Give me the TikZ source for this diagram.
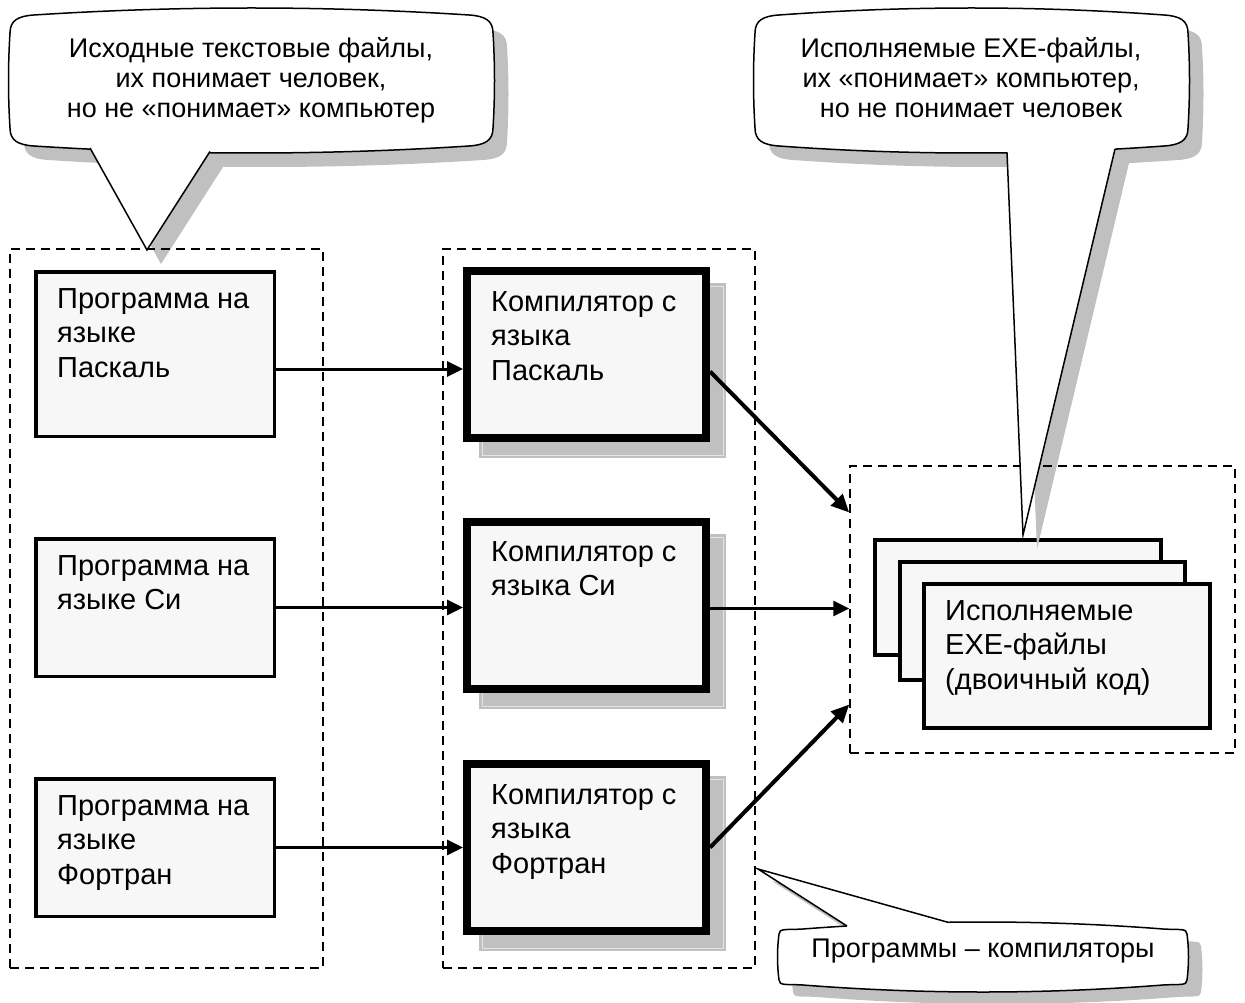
\documentclass[tikz,border=0pt]{standalone}
\usepackage{fontspec}
\setmainfont{Liberation Sans}
\usetikzlibrary{arrows.meta}
\definecolor{boxfill}{HTML}{F7F7F7}
\definecolor{shadowgray}{HTML}{C0C0C0}
\definecolor{shadowline}{HTML}{E4E4E4}

% callout body: x1 y1 x2 y2 vertical-corner
\newcommand\calloutbody[5]{%
 ({#1+24},{#2+7})
 .. controls ({#1+24+(#3-#1-48)/3},{#2-7/3}) and ({#3-24-(#3-#1-48)/3},{#2-7/3}) .. ({#3-24},{#2+7})
 .. controls ({#3-8},{#2+8}) and ({#3},{#2+#5/2}) .. ({#3},{#2+#5})
 .. controls ({#3+2},{#2+#5+(#4-#2-2*#5)/3}) and ({#3+2},{#4-#5-(#4-#2-2*#5)/3}) .. ({#3},{#4-#5})
 .. controls ({#3},{#4-#5/2}) and ({#3-8},{#4-8}) .. ({#3-24},{#4-7})
 .. controls ({#3-24-(#3-#1-48)/3},{#4+7/3}) and ({#1+24+(#3-#1-48)/3},{#4+7/3}) .. ({#1+24},{#4-7})
 .. controls ({#1+8},{#4-8}) and ({#1},{#4-#5/2}) .. ({#1},{#4-#5})
 .. controls ({#1-2},{#4-#5-(#4-#2-2*#5)/3}) and ({#1-2},{#2+#5+(#4-#2-2*#5)/3}) .. ({#1},{#2+#5})
 .. controls ({#1},{#2+#5/2}) and ({#1+8},{#2+8}) .. ({#1+24},{#2+7}) -- cycle}

\tikzset{
  srcbox/.style={draw, fill=boxfill, line width=3.5pt, inner sep=0pt, minimum width=238.5pt},
  compbox/.style={draw, fill=boxfill, line width=8pt, inner sep=0pt, minimum width=239pt, minimum height=167pt},
  exebox/.style={draw, fill=boxfill, line width=4pt, inner sep=0pt},
  group/.style={draw, dashed, dash pattern=on 9pt off 6pt, line width=1.5pt, inner sep=0pt},
  arr/.style={line width=3pt, -{Triangle[length=16pt,width=15pt]}},
  darr/.style={line width=4pt, -{Triangle[length=18pt,width=16pt]}},
  cline/.style={line width=1.5pt, line join=miter},
  txt/.style={anchor=north west, inner sep=0pt, align=left, font=\fontsize{29pt}{34.5pt}\selectfont},
  ctxt/.style={anchor=north, inner sep=0pt, align=center, font=\fontsize{27pt}{30pt}\selectfont}
}

\begin{document}
\begin{tikzpicture}[x=1pt,y=-1pt]
\useasboundingbox (0,0) rectangle (1245,1003);

% compiler shadows
\foreach \t/\b in {267/442, 518/693, 760/935}{
  \fill[shadowgray] (479,\t+16) rectangle (726,\b+16);
  \draw[shadowline, line width=0.8pt] (482,\t+19) rectangle (723,\b+13);
}

% source programs
\node[srcbox, minimum height=164.5pt] (p1) at (155,354) {};
\node[srcbox, minimum height=137.5pt] (p2) at (155,607.5) {};
\node[srcbox, minimum height=137.5pt] (p3) at (155,847.5) {};

% compilers
\node[compbox] (c1) at (586.5,354.5) {};
\node[compbox] (c2) at (586.5,605.5) {};
\node[compbox] (c3) at (586.5,847.5) {};

% exe files stack
\node[exebox, minimum width=286pt, minimum height=115pt] (e1) at (1018,597.5) {};
\node[exebox, minimum width=285pt, minimum height=118pt] (e2) at (1042.5,621) {};
\node[exebox, minimum width=286pt, minimum height=144pt] (e3) at (1067,656) {};

% callout shadows
\fill[shadowgray, shift={(14,14)}] \calloutbody{10}{8}{493}{153}{25};
\fill[shadowgray, shift={(14,14)}] (90,148) -- (147,250) -- (210,151.5) -- cycle;
\fill[shadowgray, shift={(14,14)}] \calloutbody{755}{8}{1188}{153}{25};
\fill[shadowgray, shift={(14,14)}] (1007,152.3) -- (1023,535) -- (1115,149) -- cycle;
\fill[shadowgray, shift={(14,12)}] \calloutbody{779}{922}{1187}{992}{12};
\fill[shadowgray, shift={(14,12)}] (847,926) -- (758,869) -- (948,922.3) -- cycle;

% groups
\node[group, minimum width=313pt, minimum height=719pt] (gL) at (166.5,608.5) {};
\node[group, minimum width=312pt, minimum height=719pt] (gM) at (599,608.5) {};
\node[group, minimum width=385pt, minimum height=287pt] (gR) at (1042.5,609.5) {};

% arrows
\draw[arr] ([yshift=-15pt]p1.east) coordinate (s1) -- (s1 -| c1.west);
\draw[arr] (p2.east) -- (p2.east -| c2.west);
\draw[arr] (p3.east) -- (p3.east -| c3.west);
\draw[darr] ([yshift=-17pt]c1.east) -- ([yshift=97pt]gR.west);
\draw[arr] ([yshift=-3pt]c2.east) coordinate (s2) -- (s2 -| gR.west);
\draw[darr] (c3.east) -- ([yshift=-95pt]gR.west);

% callouts
\draw[cline, fill=white] \calloutbody{10}{8}{493}{153}{25};
\fill[white] (90,140) -- (90,148) -- (147,250) -- (210,151.5) -- (210,140) -- cycle;
\draw[cline] (90,148) -- (147,250) -- (210,151.5);

\draw[cline, fill=white] \calloutbody{755}{8}{1188}{153}{25};
\fill[white] (1007,142) -- (1007,152.3) -- (1023,535) -- (1115,149) -- (1115,142) -- cycle;
\draw[cline] (1007,152.3) -- (1023,535) -- (1115,149);

\draw[cline, fill=white] \calloutbody{779}{922}{1187}{992}{12};
\fill[white] (847,934) -- (847,926) -- (758,869) -- (948,922.3) -- (948,934) -- cycle;
\draw[cline] (847,926) -- (758,869) -- (948,922.3);

% texts
\node[txt] (tp1) at (57,288) {Программа на\\языке\\Паскаль};
\node[txt] (tp2) at (57,555) {Программа на\\языке Си};
\node[txt] (tp3) at (57,795) {Программа на\\языке\\Фортран};
\node[txt] (tc1) at (491,291) {Компилятор с\\языка\\Паскаль};
\node[txt] (tc2) at (491,541) {Компилятор с\\языка Си};
\node[txt] (tc3) at (491,784) {Компилятор с\\языка\\Фортран};
\node[txt] (te) at (945,600) {Исполняемые\\EXE-файлы\\(двоичный код)};
\node[ctxt] (k1) at (251,37) {Исходные текстовые файлы,\\их понимает человек,\\но не «понимает» компьютер};
\node[ctxt] (k2) at (971,37) {Исполняемые EXE-файлы,\\их «понимает» компьютер,\\но не понимает человек};
\node[ctxt] (k3) at (983,939) {Программы – компиляторы};
\end{tikzpicture}
\end{document}
